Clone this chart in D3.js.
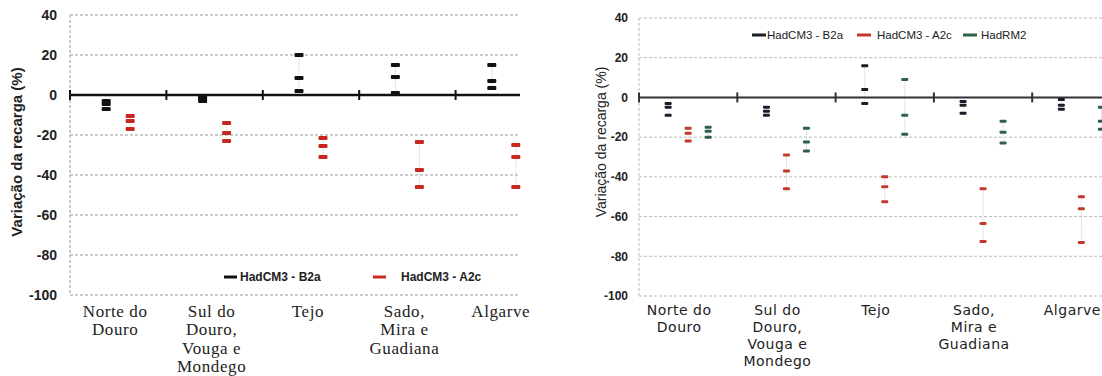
<!DOCTYPE html>
<html><head><meta charset="utf-8">
<script src="https://cdn.jsdelivr.net/npm/d3@7"></script>
<style>body{margin:0;background:#fff}svg{display:block}</style></head>
<body>
<svg id="c" width="1102" height="376"></svg>
<script>
// ---- data ----
const categories = ["Norte do Douro", "Sul do Douro, Vouga e Mondego", "Tejo", "Sado, Mira e Guadiana", "Algarve"];
const categoryLines = [["Norte do", "Douro"], ["Sul do", "Douro,", "Vouga e", "Mondego"], ["Tejo"], ["Sado,", "Mira e", "Guadiana"], ["Algarve"]];
const yTicks = [40, 20, 0, -20, -40, -60, -80, -100];
const yLabel = "Variação da recarga (%)";

const leftSeries = ["HadCM3 - B2a", "HadCM3 - A2c"];
const leftB2a = [[-3, -4.5, -7], [-1, -2, -3], [20, 8.5, 2], [15, 9, 1], [15, 7, 3.5]];
const leftA2c = [[-10.5, -13, -17], [-14, -19, -23], [-21.5, -25.5, -31], [-23.5, -37.5, -46], [-25, -31, -46]];

const rightSeries = ["HadCM3 - B2a", "HadCM3 - A2c", "HadRM2"];
const rightB2a = [[-3, -5, -9], [-5, -7, -9], [16, 4, -3], [-2, -4, -8], [-1, -4, -6]];
const rightA2c = [[-15.5, -18, -22], [-29, -37, -46], [-40, -45, -52.5], [-46, -63.5, -72.5], [-50, -56, -73]];
const rightRM2 = [[-15, -17, -20], [-15.5, -22.5, -27], [9, -9, -18.5], [-12, -17.5, -23], [-5, -12, -16]];

const svg = d3.select("#c");

function drawPanel(o) {
  const g = svg.append("g");
  const x = d3.scaleBand().domain(categories).range([o.x0, o.x0 + 5 * o.bw]).paddingInner(0).paddingOuter(0);
  const y = d3.scaleLinear().domain([-100, 40]).range([o.yBottom, o.yTop]);
  const sx = d3.scalePoint().domain(o.series).range([-o.spread, o.spread]);

  // gridlines
  g.append("g").selectAll("line").data(yTicks.filter(d => d !== 0)).join("line")
    .attr("x1", o.x0).attr("x2", o.xEnd)
    .attr("y1", d => y(d)).attr("y2", d => y(d))
    .attr("stroke", o.gridColor).attr("stroke-width", 1).attr("stroke-dasharray", "3,2");
  // y axis line
  g.append("line").attr("x1", o.x0).attr("x2", o.x0).attr("y1", y(40)).attr("y2", y(-100))
    .attr("stroke", o.gridColor).attr("stroke-width", 1).attr("stroke-dasharray", "3,2");

  // y tick labels
  g.append("g").selectAll("text").data(yTicks).join("text")
    .attr("x", o.tickLabelX).attr("y", d => y(d)).attr("dy", "0.36em")
    .attr("text-anchor", "end")
    .attr("font-family", "Liberation Sans, Arial, sans-serif")
    .attr("font-weight", "bold").attr("font-size", o.tickFont).attr("fill", "#222")
    .text(d => d);

  // y label
  g.append("text")
    .attr("transform", `translate(${o.yLabelX},${o.yLabelY}) rotate(-90)`)
    .attr("text-anchor", "middle")
    .attr("font-family", "Liberation Sans, Arial, sans-serif")
    .attr("font-weight", o.yLabelWeight).attr("font-size", o.yLabelFont).attr("fill", "#222")
    .text(yLabel);

  // connecting faint lines
  const all = [];
  o.data.forEach((arr, si) => arr.forEach((vals, ci) => {
    all.push({ s: o.series[si], c: categories[ci], vals, color: o.colors[si] });
  }));
  g.append("g").selectAll("line").data(all).join("line")
    .attr("x1", d => x(d.c) + x.bandwidth() / 2 + sx(d.s))
    .attr("x2", d => x(d.c) + x.bandwidth() / 2 + sx(d.s))
    .attr("y1", d => y(d3.max(d.vals))).attr("y2", d => y(d3.min(d.vals)))
    .attr("stroke", "#ccc").attr("stroke-width", 1).attr("stroke-dasharray", "1,1");

  // zero axis line with ticks
  g.append("line").attr("x1", o.x0).attr("x2", o.xEnd).attr("y1", y(0)).attr("y2", y(0))
    .attr("stroke", o.zeroColor).attr("stroke-width", o.zeroWidth);
  const bounds = categories.map(c => x(c)).filter(v => v <= o.xEnd);
  g.append("g").selectAll("line").data(bounds).join("line")
    .attr("x1", d => d).attr("x2", d => d).attr("y1", y(0) - 5).attr("y2", y(0) + 5)
    .attr("stroke", o.zeroColor).attr("stroke-width", 2);

  // markers
  const pts = [];
  all.forEach(d => d.vals.forEach(v => pts.push({ ...d, v })));
  g.append("g").selectAll("rect").data(pts).join("rect")
    .attr("x", d => x(d.c) + x.bandwidth() / 2 + sx(d.s) - o.mw / 2)
    .attr("y", d => y(d.v) - o.mh / 2)
    .attr("width", o.mw).attr("height", o.mh).attr("rx", 1)
    .attr("fill", d => d.color);

  // category labels
  const cl = g.append("g");
  categories.forEach((c, i) => {
    const t = cl.append("text")
      .attr("x", x(c) + x.bandwidth() / 2 + o.labelShift)
      .attr("y", o.labelY)
      .attr("text-anchor", "middle")
      .attr("letter-spacing", o.labelSpacing)
      .attr("font-family", o.labelFamily).attr("font-size", o.labelFont).attr("fill", "#222");
    categoryLines[i].forEach((ln, k) => {
      t.append("tspan").attr("x", x(c) + x.bandwidth() / 2 + o.labelShift)
        .attr("dy", k === 0 ? 0 : o.lineH).text(ln);
    });
  });

  // legend
  const lg = g.append("g");
  o.series.forEach((s, i) => {
    lg.append("line").attr("x1", o.legend[i]).attr("x2", o.legend[i] + o.legLine)
      .attr("y1", o.legendY).attr("y2", o.legendY)
      .attr("stroke", o.colors[i]).attr("stroke-width", 3);
    lg.append("text").attr("x", o.legendText[i]).attr("y", o.legendY).attr("dy", "0.35em")
      .attr("font-family", "Liberation Sans, Arial, sans-serif")
      .attr("font-weight", o.legWeight).attr("font-size", o.legFont).attr("fill", "#222")
      .text(s);
  });
}

drawPanel({
  x0: 70, bw: 96.4, xEnd: 520, yTop: 15, yBottom: 295,
  series: leftSeries, data: [leftB2a, leftA2c], colors: ["#111111", "#c8281e"],
  spread: 12, mw: 9, mh: 4,
  gridColor: "#999", zeroColor: "#111", zeroWidth: 2.5,
  tickLabelX: 57, tickFont: 14,
  yLabelX: 22, yLabelY: 152, yLabelWeight: "bold", yLabelFont: 15,
  labelFamily: "Liberation Serif, Times New Roman, serif", labelFont: 17, labelSpacing: 0.6, labelY: 317, lineH: 18.3, labelShift: -3,
  legend: [224, 373], legendText: [240, 401], legendY: 277, legLine: 13, legWeight: "bold", legFont: 12
});

drawPanel({
  x0: 639, bw: 98.3, xEnd: 1102, yTop: 18, yBottom: 296,
  series: rightSeries, data: [rightB2a, rightA2c, rightRM2], colors: ["#1b1b2b", "#c0392b", "#2f6048"],
  spread: 20, mw: 7, mh: 3,
  gridColor: "#bbb", zeroColor: "#333", zeroWidth: 2,
  tickLabelX: 628, tickFont: 12,
  yLabelX: 606, yLabelY: 142, yLabelWeight: "normal", yLabelFont: 14,
  labelFamily: "DejaVu Sans, Verdana, sans-serif", labelFont: 14, labelSpacing: 0.5, labelY: 315, lineH: 17, labelShift: -9,
  legend: [752, 857, 963], legendText: [767, 877, 981], legendY: 35, legLine: 14, legWeight: "normal", legFont: 11.5
});
</script>
</body></html>
